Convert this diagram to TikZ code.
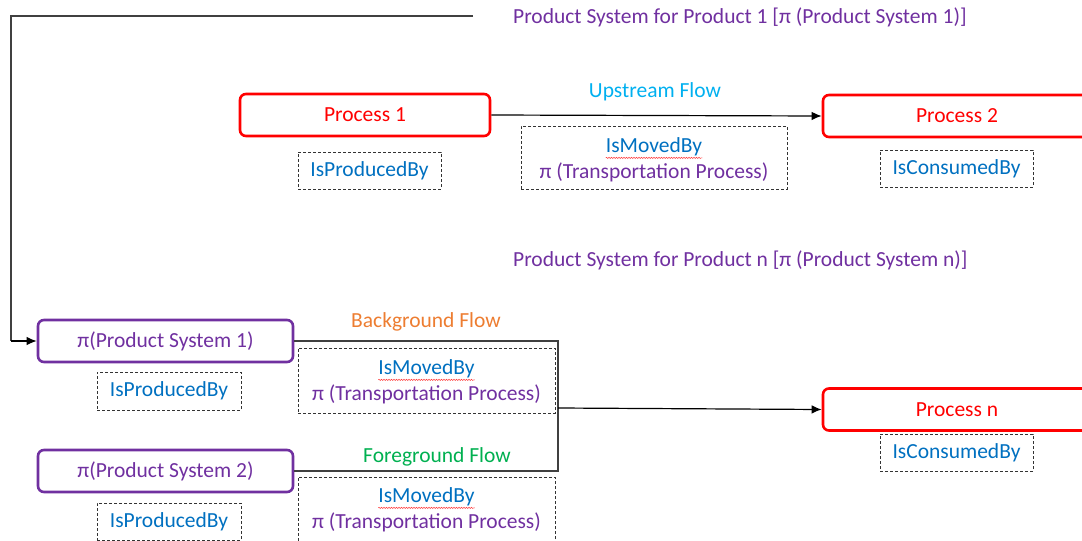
\documentclass[tikz,border=0pt]{standalone}
\usepackage{fontspec}
\setmainfont{Carlito}
\usetikzlibrary{arrows.meta,decorations.pathmorphing}

\definecolor{procred}{HTML}{FF0000}
\definecolor{sysviolet}{HTML}{7030A0}
\definecolor{relblue}{HTML}{0070C0}
\definecolor{upblue}{HTML}{00B0F0}
\definecolor{bgorange}{HTML}{ED7D31}
\definecolor{fggreen}{HTML}{00B050}
\definecolor{linegray}{HTML}{404040}

\tikzset{
  every node/.style={font=\fontsize{21.5}{25}\selectfont, inner sep=0pt},
  procbox/.style={draw=procred, line width=2.6pt, rounded corners=6pt,
    text=procred, minimum height=42pt},
  sysbox/.style={draw=sysviolet, line width=2.6pt, rounded corners=6pt,
    text=sysviolet, minimum width=255pt, minimum height=42pt},
  relbox/.style={draw=black!80, line width=0.8pt, dash pattern=on 3pt off 2pt,
    text=relblue},
  reltext/.style={text=relblue},
  systext/.style={text=sysviolet},
  conn/.style={draw=linegray, line width=1.2pt},
  flow/.style={draw=black, line width=1.2pt, -{Latex[length=10pt,width=8.5pt]}},
  spell/.style={draw=red!75, line width=0.45pt,
    decorate, decoration={snake, amplitude=0.6pt, segment length=2.5pt}}
}

\begin{document}
\begin{tikzpicture}[x=1pt,y=-1pt]
\useasboundingbox (0,0) rectangle (1082,541);

% product system headings
\node[systext, anchor=west] (hdone) at (513,17) {Product System for Product 1 [π (Product System 1)]};
\node[systext, anchor=west] (hdn) at (513,260) {Product System for Product n [π (Product System n)]};

% upper product system
\node[procbox, minimum width=250pt] (p1) at (365,115) {Process 1};
\node[procbox, minimum width=270pt] (p2) at (958,116) {\hspace*{-2pt}Process 2};
\node[relbox, minimum width=143pt, minimum height=37pt] (prod1) at (369.5,170.5) {IsProducedBy};
\node[relbox, minimum width=153pt, minimum height=37pt] (cons1) at (956.5,168.5) {IsConsumedBy};
\node[relbox, minimum width=266pt, minimum height=63pt] (mv1) at (654,157.5) {};
\node[reltext] (mv1a) at (654,147) {IsMovedBy};
\node[systext] (mv1b) at (654,172) {π (Transportation Process)};
\node[text=upblue] (upl) at (655,92) {Upstream Flow};

% lower product system
\node[sysbox] (ps1) at (165.5,341) {π(Product System 1)};
\node[sysbox] (ps2) at (165.5,471) {π(Product System 2)};
\node[procbox, minimum width=270pt] (pn) at (958,409.5) {\hspace*{-2pt}Process n};
\node[relbox, minimum width=144pt, minimum height=38pt] (prod2) at (169,391) {IsProducedBy};
\node[relbox, minimum width=144pt, minimum height=37pt] (prod3) at (169,521.5) {IsProducedBy};
\node[relbox, minimum width=153pt, minimum height=37pt] (cons2) at (956.5,452.5) {IsConsumedBy};
\node[relbox, minimum width=257pt, minimum height=65pt] (mv2) at (426.5,380.5) {};
\node[reltext] (mv2a) at (426.5,369) {IsMovedBy};
\node[systext] (mv2b) at (426.5,394) {π (Transportation Process)};
\node[relbox, minimum width=257pt, minimum height=65pt] (mv3) at (426.5,509.5) {};
\node[reltext] (mv3a) at (426.5,497) {IsMovedBy};
\node[systext] (mv3b) at (426.5,522) {π (Transportation Process)};
\node[text=bgorange] (bgl) at (426,322) {Background Flow};
\node[text=fggreen] (fgl) at (437,457) {Foreground Flow};

% spell-check underlines
\foreach \w in {mv1a,mv2a,mv3a}
  \draw[spell] ([yshift=-1.5pt]\w.south west) -- ([yshift=-1.5pt]\w.south east);

% connectors
\coordinate (topend) at (473,16);
\coordinate (topcorner) at (11,16);
\coordinate (jn) at (558,408);
\draw[conn] (topend) -- (topcorner) -- (topcorner |- ps1.west);
\draw[flow] (topcorner |- ps1.west) -- (ps1.west);
\draw[flow] (p1.east) -- (p2.west);
\draw[conn] (ps1.east) -| (jn) |- (ps2.east);
\draw[flow] (jn) -- (pn.west);
\end{tikzpicture}
\end{document}
